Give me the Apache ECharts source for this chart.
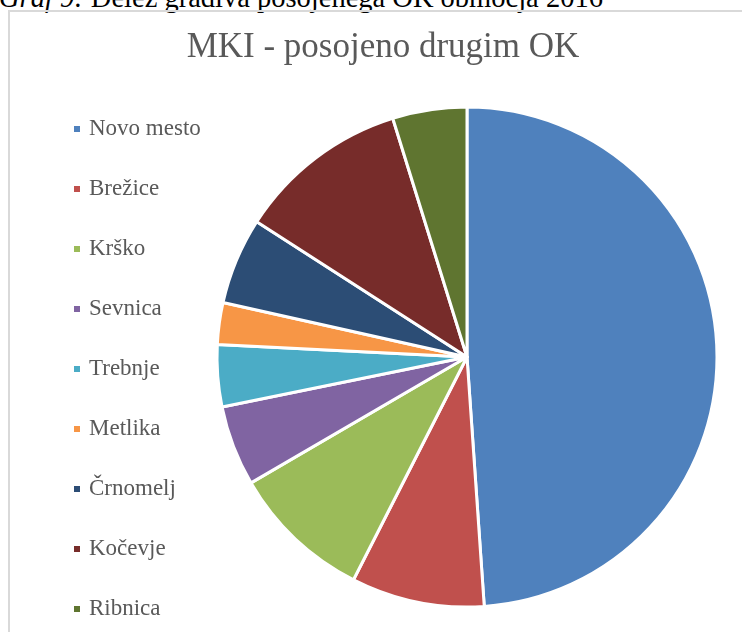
<!DOCTYPE html>
<html>
<head>
<meta charset="utf-8">
<script src="https://cdn.jsdelivr.net/npm/echarts@6/dist/echarts.min.js"></script>
<style>
  html, body { margin: 0; padding: 0; width: 742px; height: 632px; overflow: hidden; background: #fff; }
  #caption { position: absolute; left: -1px; top: -16px; font-family: "Liberation Serif", serif; font-size: 28.5px; line-height: 28.5px; color: #000; white-space: nowrap; }
  #frame { position: absolute; left: 8px; top: 10px; width: 800px; height: 700px; border: 2px solid #d9d9d9; box-sizing: border-box; }
  #chart { position: absolute; left: 0; top: 0; width: 766px; height: 632px; }
</style>
</head>
<body>
<div id="caption"><i>Graf 9:</i> Delež gradiva posojenega OK območja 2016</div>
<div id="frame"></div>
<div id="chart"></div>
<script>
const categories = ['Novo mesto', 'Brežice', 'Krško', 'Sevnica', 'Trebnje', 'Metlika', 'Črnomelj', 'Kočevje', 'Ribnica'];
const values = [48.9, 8.6, 9.1, 5.2, 4.0, 2.7, 5.6, 11.1, 4.8];
const colors = ['#4F81BD', '#C0504D', '#9BBB59', '#8064A2', '#4BACC6', '#F79646', '#2C4D75', '#772C2A', '#5F7530'];
const titleText = 'MKI - posojeno drugim OK';

const chart = echarts.init(document.getElementById('chart'), null, { renderer: 'canvas' });
chart.setOption({
  animation: false,
  color: colors,
  title: {
    text: titleText,
    left: 'center',
    top: 25,
    textStyle: { fontFamily: 'Liberation Serif', fontSize: 35, fontWeight: 'normal', color: '#595959' }
  },
  legend: {
    orient: 'vertical',
    left: 72,
    top: 117,
    padding: 0,
    itemGap: 36,
    itemWidth: 8,
    itemHeight: 8,
    icon: 'rect',
    data: categories,
    textStyle: { fontFamily: 'Liberation Serif', fontSize: 23, color: '#595959', lineHeight: 24, padding: [0, 0, 0, 3] }
  },
  series: [{
    type: 'pie',
    center: [467, 357],
    radius: 250,
    startAngle: 90,
    clockwise: true,
    label: { show: false },
    labelLine: { show: false },
    emphasis: { disabled: true },
    itemStyle: { borderColor: '#fff', borderWidth: 3 },
    data: categories.map((c, i) => ({ name: c, value: values[i] }))
  }]
});
</script>
</body>
</html>
